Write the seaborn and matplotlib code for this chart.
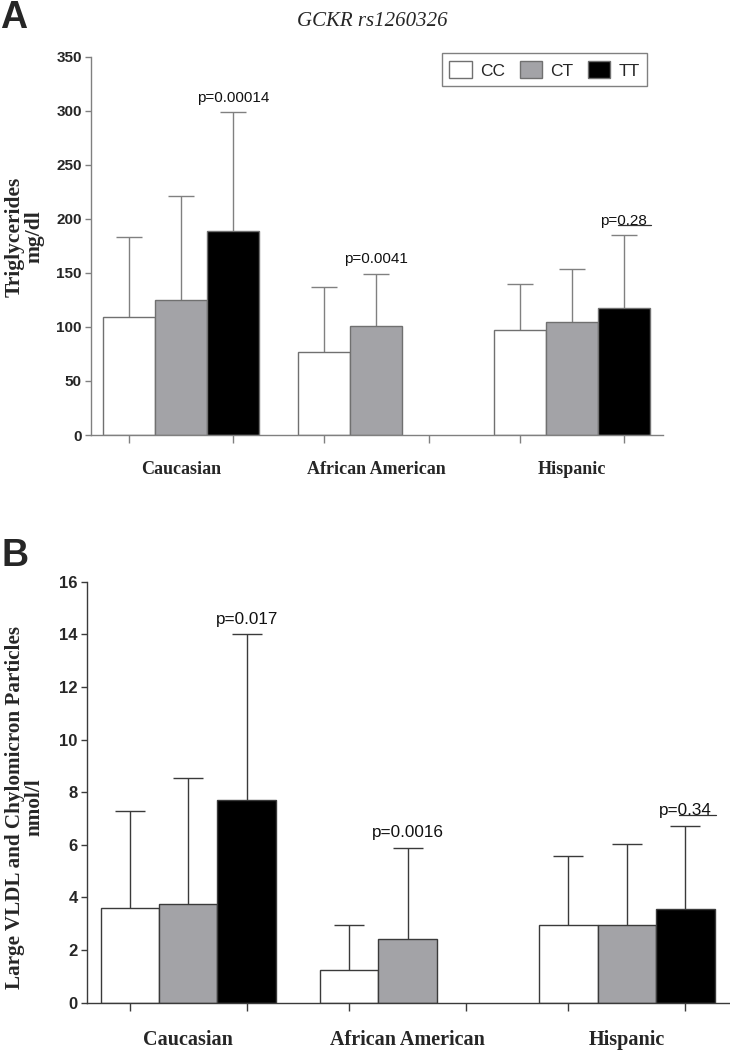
import numpy as np
import pandas as pd
import matplotlib
matplotlib.use("Agg")
import matplotlib.pyplot as plt
import seaborn as sns

# ---------------- data ----------------
groups = ["Caucasian", "African American", "Hispanic"]
genotypes = ["CC", "CT", "TT"]

# Panel A: triglycerides (mg/dl) mean and mean+SD
tg_cc = [108.8, 76.8, 96.8]
tg_ct = [124.6, 100.5, 104.8]
tg_tt = [189.0, np.nan, 117.2]
tg_cc_top = [182.9, 136.6, 139.7]
tg_ct_top = [220.8, 149.2, 153.6]
tg_tt_top = [298.5, np.nan, 184.7]
tg_pvals = ["p=0.00014", "p=0.0041", "p=0.28"]

# Panel B: large VLDL & chylomicron particles (nmol/l)
vl_cc = [3.60, 1.23, 2.96]
vl_ct = [3.75, 2.41, 2.96]
vl_tt = [7.71, np.nan, 3.55]
vl_cc_top = [7.27, 2.96, 5.59]
vl_ct_top = [8.53, 5.87, 6.03]
vl_tt_top = [14.0, np.nan, 6.73]
vl_pvals = ["p=0.017", "p=0.0016", "p=0.34"]

# genotype of the bar that carries the p-value in each group
p_geno = ["TT", "CT", "TT"]
underline_p = [False, False, True]

palette = {"CC": "white", "CT": "#a3a3a7", "TT": "black"}


def long_df(cc, ct, tt, cc_t, ct_t, tt_t):
    rows = []
    for gi, g in enumerate(groups):
        for geno, m, t in (("CC", cc, cc_t), ("CT", ct, ct_t), ("TT", tt, tt_t)):
            if not np.isnan(m[gi]):
                rows.append({"group": g, "genotype": geno, "mean": m[gi], "top": t[gi]})
    return pd.DataFrame(rows)


dfA = long_df(tg_cc, tg_ct, tg_tt, tg_cc_top, tg_ct_top, tg_tt_top)
dfB = long_df(vl_cc, vl_ct, vl_tt, vl_cc_top, vl_ct_top, vl_tt_top)

# ---------------- style ----------------
sns.set_style("ticks")
plt.rcParams["font.family"] = ["Liberation Sans", "DejaVu Sans"]

fig = plt.figure(figsize=(7.3, 10.5), dpi=100)
W, H = 730.0, 1050.0


def px_axes(left, top, right, bottom):
    return fig.add_axes([left / W, 1 - bottom / H, (right - left) / W, (bottom - top) / H])


axA = px_axes(91, 56.7, 663.3, 435)
axB = px_axes(86.7, 581.7, 730, 1002.7)

serif = ["Liberation Serif", "DejaVu Serif"]


def draw_panel(ax, df, ylim, yticks, ylabel, pvals, line_color, edge_color,
               capsize, group_fs, ylabel_fs, p_fs, ytick_fs, label_xy, xlab_pad,
               p_off):
    sns.barplot(data=df, x="group", y="mean", hue="genotype", order=groups,
                hue_order=genotypes, palette=palette, saturation=1, width=0.8,
                errorbar=None, edgecolor=edge_color, linewidth=1.0, ax=ax,
                legend=True)
    bar_containers = list(ax.containers)
    # error bars (upper only) from the drawn bars
    xs, ys, tops = [], [], []
    bar_pos = {}
    for geno, cont in zip(genotypes, bar_containers):
        for bar in cont:
            xc = bar.get_x() + bar.get_width() / 2
            h = bar.get_height()
            gi = int(round(xc))
            row = df[(df.group == groups[gi]) & (df.genotype == geno)]
            if len(row) == 0:
                continue
            xs.append(xc)
            ys.append(h)
            tops.append(float(row["top"].iloc[0]))
            bar_pos[(gi, geno)] = (xc, float(row["top"].iloc[0]))
            bar.set_zorder(2)
    xs, ys, tops = np.array(xs), np.array(ys), np.array(tops)
    _, caps, _ = ax.errorbar(xs, ys, yerr=[np.zeros_like(ys), tops - ys], fmt="none",
                             ecolor=line_color, elinewidth=1.0, capsize=capsize,
                             capthick=1.0, zorder=1)
    for c in caps:
        if np.allclose(c.get_ydata(), ys):
            c.set_visible(False)

    ax.set_ylim(*ylim)
    ax.set_yticks(yticks)
    ax.set_xlim(-0.463, 2.47)
    w = 0.8 / 3
    ax.set_xticks(range(len(groups)))
    ax.set_xticklabels(groups, fontfamily=serif, fontweight="bold", fontsize=group_fs)
    ax.set_xticks([g + o for g in range(len(groups)) for o in (-w, 0, w)], minor=True)
    ax.tick_params(axis="x", which="major", length=0, pad=xlab_pad)
    ax.tick_params(axis="x", which="minor", length=6, width=1, color=line_color,
                   direction="out")
    ax.tick_params(axis="y", length=4.5, width=1, color=line_color, direction="out",
                   pad=2, labelsize=ytick_fs)
    for lab in ax.get_yticklabels():
        lab.set_fontweight("bold")
    ax.set_xlabel("")
    ax.set_ylabel(ylabel, fontfamily=serif, fontweight="bold", fontsize=ylabel_fs,
                  linespacing=0.95)
    ax.yaxis.label.set_va("center")
    ax.yaxis.set_label_coords(*label_xy)
    for s in ("top", "right"):
        ax.spines[s].set_visible(False)
    for s in ("left", "bottom"):
        ax.spines[s].set_color(line_color)
        ax.spines[s].set_linewidth(1.0)

    # p-values
    for gi, (txt, geno, ul) in enumerate(zip(pvals, p_geno, underline_p)):
        xc, top = bar_pos[(gi, geno)]
        t = ax.annotate(txt, xy=(xc, top), xytext=(0, p_off), textcoords="offset points",
                        ha="center", va="center", fontsize=p_fs, color="#111111")
        if ul:
            fig.canvas.draw()
            bb = t.get_window_extent()
            x0 = bb.x0 + 0.37 * bb.width
            x1 = bb.x1 + 4
            yb = bb.y0 + 0.2 * bb.height
            inv = ax.transData.inverted()
            (dx0, dy), (dx1, _) = inv.transform([(x0, yb), (x1, yb)])
            ax.plot([dx0, dx1], [dy, dy], color="#333333", lw=0.9)
    return ax


draw_panel(axA, dfA, (0, 350), np.arange(0, 351, 50), "Triglycerides\nmg/dl",
           tg_pvals, "#808080", "#707070", 9.7, 13, 15.5, 11, 11, (-0.116, 0.524), 19, 10.5)
draw_panel(axB, dfB, (0, 16), np.arange(0, 17, 2),
           "Large VLDL and Chylomicron Particles\nnmol/l",
           vl_pvals, "#3a3a3a", "#3a3a3a", 10.7, 14.5, 15.2, 12.3, 12, (-0.096, 0.464), 20, 11)

# legend on panel A only
handles, labels = axA.get_legend_handles_labels()
axA.legend(handles, labels, ncol=3, loc="upper right",
           bbox_to_anchor=(647.3 / W, 1 - 53.3 / H), bbox_transform=fig.transFigure,
           borderaxespad=0, fontsize=12.5, handlelength=1.3, handleheight=1.15,
           handletextpad=0.45, columnspacing=0.85, borderpad=0.45, frameon=True,
           fancybox=False, framealpha=1, edgecolor="#808080")
axA.get_legend().get_frame().set_linewidth(1.0)
if axB.get_legend() is not None:
    axB.get_legend().remove()

# titles / panel letters
fig.text(372 / W, 1 - 22 / H, "GCKR rs1260326", ha="center", va="center",
         fontfamily=serif, fontstyle="italic", fontsize=15)
fig.text(0 / W, 1 - 18 / H, "A", ha="left", va="center", fontsize=27, fontweight="bold")
fig.text(2 / W, 1 - 556 / H, "B", ha="left", va="center", fontsize=27, fontweight="bold")

fig.savefig("out.png", dpi=100)
